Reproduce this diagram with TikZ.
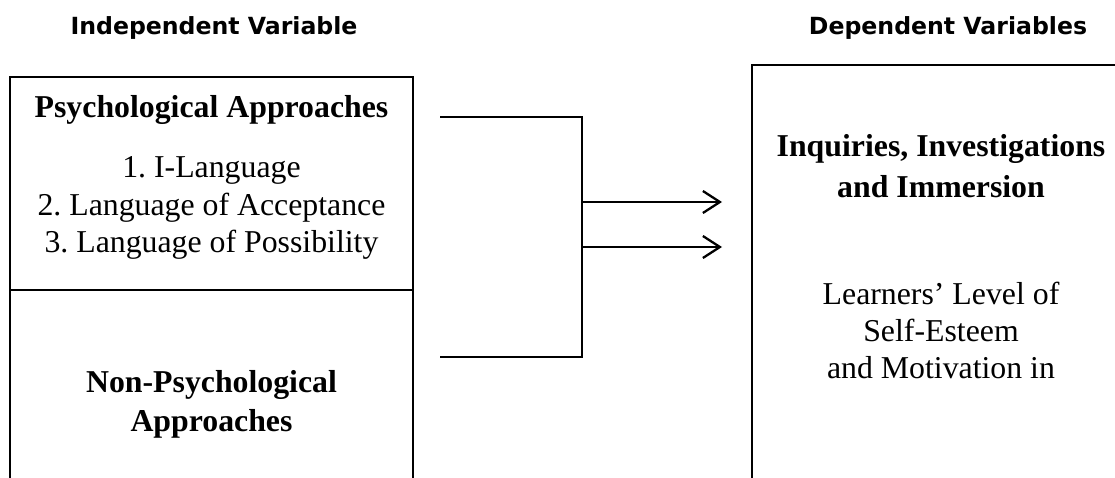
\documentclass[tikz,border=0pt]{standalone}
\usepackage{fontspec}
\setmainfont{Liberation Serif}
\newfontfamily\hdrfont{DejaVu Sans}
\usetikzlibrary{arrows.meta}
\frenchspacing
\begin{document}
\begin{tikzpicture}[x=1pt,y=-1pt,
  hdr/.style={font=\hdrfont\bfseries\fontsize{23.6}{28}\selectfont, anchor=base, inner sep=0pt},
  body/.style={font=\frenchspacing\fontsize{31.8}{37}\selectfont, anchor=base, align=center, inner sep=0pt},
  bodyb/.style={body, font=\frenchspacing\bfseries\fontsize{31.8}{39}\selectfont},
  frame/.style={line width=2.6pt},
  conn/.style={line width=2.3pt},
  arr/.style={conn, -{Straight Barb[length=17pt,width=22pt,line width=2.3pt]}}
]
\useasboundingbox (0,0) rectangle (1115,478);

% headers
\node[hdr] (hIV) at (214,35) {Independent Variable};
\node[hdr] (hDV) at (948,35) {Dependent Variables};

% left box (open at the bottom)
\coordinate (lbl) at (10,490);
\coordinate (ltl) at (10,77);
\coordinate (ltr) at (413,77);
\coordinate (lbr) at (413,490);
\coordinate (dl) at (10,290);
\coordinate (dr) at (413,290);
\draw[frame] (lbl) -- (ltl) -- (ltr) -- (lbr);
\draw[frame] (dl) -- (dr);

% right box (open at bottom and right)
\coordinate (rbl) at (752,490);
\coordinate (rtl) at (752,65);
\coordinate (rtr) at (1130,65);
\draw[frame] (rbl) -- (rtl) -- (rtr);

% texts (base anchor of a multi-line node = baseline of its last line)
\node[bodyb] (psy) at (211.5,118) {Psychological Approaches};
\node[body] (list) at (211.5,252) {1. I-Language\\2. Language of Acceptance\\3. Language of Possibility};
\node[bodyb] (nonpsy) at (211.5,431) {Non-Psychological\\Approaches};
\node[bodyb, font=\frenchspacing\bfseries\fontsize{31.8}{41}\selectfont] (iii) at (941,198) {Inquiries, Investigations\\and Immersion};
\node[body] (lvl) at (941,378) {Learners’ Level of\\Self-Esteem\\and Motivation in};

% connectors
\coordinate (t1) at (440,117);
\coordinate (jt) at (582,117);
\coordinate (jb) at (582,357);
\coordinate (t2) at (440,357);
\draw[conn] (t1) -- (jt) -- (jb) -- (t2);
\coordinate (j1) at (582,202);
\coordinate (e1) at (722,202);
\coordinate (j2) at (582,247);
\coordinate (e2) at (722,247);
\draw[arr] (j1) -- (e1);
\draw[arr] (j2) -- (e2);
\end{tikzpicture}
\end{document}
